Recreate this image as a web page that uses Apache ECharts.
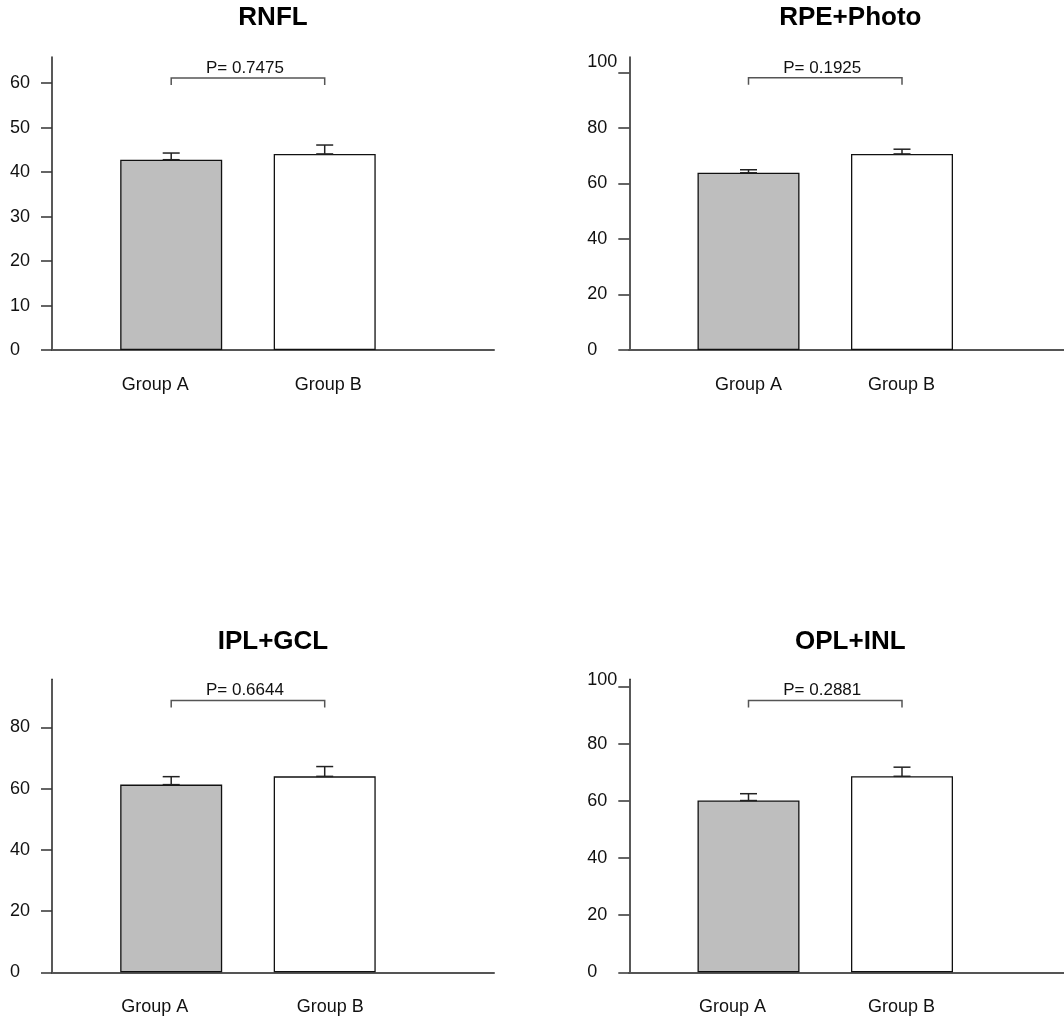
<!DOCTYPE html>
<html>
<head>
<meta charset="utf-8">
<script src="https://cdn.jsdelivr.net/npm/echarts@6.0.0/dist/echarts.min.js"></script>
<style>
html, body { margin: 0; padding: 0; background: #fff; }
#chart { width: 1064px; height: 1021px; }
</style>
</head>
<body>
<div id="chart"></div>
<script>
// data
var groups = ['Group A', 'Group B'];
var panelTitles = ['RNFL', 'RPE+Photo', 'IPL+GCL', 'OPL+INL'];
var meanA = [42.8, 63.8, 61.3, 60.2];
var meanB = [44.1, 70.6, 64.0, 68.7];
var semA = [1.5, 1.1, 2.6, 2.4];
var semB = [2.0, 1.7, 3.2, 3.2];
var pValues = ['0.7475', '0.1925', '0.6644', '0.2881'];
var bracketY = [61.2, 98.0, 88.8, 95.3];
var yMax = [65.9, 105.5, 95.7, 102.7];
var yTicks = [
  [0, 10, 20, 30, 40, 50, 60],
  [0, 20, 40, 60, 80, 100],
  [0, 20, 40, 60, 80],
  [0, 20, 40, 60, 80, 100]
];

// layout (px)
var lefts = [52, 629.3, 52, 629.3];
var tops = [57, 57, 679.3, 679.3];
var titleTops = [5, 5, 629, 629];
var gridW = 442, gridH = 293;
var pxPerGroup = 153.5, firstOffset = 119.2;
var xMin = 1 - firstOffset / pxPerGroup;
var xMax = xMin + gridW / pxPerGroup;
// small label nudges seen in the figure
var labelShiftA = [-16, 0, -16.5, -16];
var labelShiftB = [3.5, -0.5, 5.5, -0.5];
var topLabelLift = [0, 10, 0, 6.5];

var fontFam = '"Liberation Sans", Arial, Helvetica, sans-serif';
var fillColors = ['#bebebe', '#ffffff'];

var chart = echarts.init(document.getElementById('chart'));

var grids = [], xAxes = [], yAxes = [], series = [], titles = [];

function padFor(shift) {
  // centred text: extra padding on one side moves it by half
  return shift < 0 ? [0, -shift * 2, 0, 0] : [0, 0, 0, shift * 2];
}

for (var i = 0; i < 4; i++) {
  (function (i) {
    grids.push({
      left: lefts[i], top: tops[i], width: gridW, height: gridH,
      containLabel: false, outerBoundsMode: 'none'
    });

    titles.push({
      text: panelTitles[i],
      left: lefts[i] + gridW / 2,
      top: titleTops[i],
      textAlign: 'center',
      padding: 0,
      textStyle: { fontSize: 26, fontWeight: 'bold', color: '#000', fontFamily: fontFam }
    });

    xAxes.push({
      type: 'value',
      gridIndex: i,
      min: xMin,
      max: xMax,
      axisLine: { show: true, onZero: false, lineStyle: { color: '#555', width: 2 } },
      axisTick: { show: false },
      splitLine: { show: false },
      axisLabel: {
        customValues: [1, 2],
        margin: 26,
        fontSize: 18,
        color: '#111',
        fontFamily: fontFam,
        formatter: function (v) { return v === 1 ? '{a|' + groups[0] + '}' : '{b|' + groups[1] + '}'; },
        rich: {
          a: { fontSize: 18, color: '#111', fontFamily: fontFam, padding: padFor(labelShiftA[i]) },
          b: { fontSize: 18, color: '#111', fontFamily: fontFam, padding: padFor(labelShiftB[i]) }
        }
      }
    });

    yAxes.push({
      type: 'value',
      gridIndex: i,
      min: 0,
      max: yMax[i],
      axisLine: { show: true, onZero: false, lineStyle: { color: '#222', width: 1.5 } },
      axisTick: { show: true, customValues: yTicks[i], length: 11, lineStyle: { color: '#333', width: 1.5 } },
      splitLine: { show: false },
      axisLabel: {
        customValues: yTicks[i],
        align: 'left',
        margin: 42,
        fontSize: 18,
        color: '#111',
        fontFamily: fontFam,
        formatter: function (v) { return v >= 100 ? '{up|' + v + '}' : String(v); },
        rich: {
          up: { fontSize: 18, color: '#111', fontFamily: fontFam, padding: [0, 0, topLabelLift[i] * 2, 0] }
        }
      }
    });

    series.push({
      type: 'bar',
      xAxisIndex: i,
      yAxisIndex: i,
      barWidth: 102,
      z: 3,
      data: [
        { value: [1, meanA[i]], itemStyle: { color: fillColors[0] } },
        { value: [2, meanB[i]], itemStyle: { color: fillColors[1] } }
      ],
      itemStyle: { borderColor: '#111', borderWidth: 1.3 }
    });

    // error bars: mean to mean + SEM with caps
    series.push({
      type: 'custom',
      xAxisIndex: i,
      yAxisIndex: i,
      z: 4,
      data: [[1, meanA[i], semA[i]], [2, meanB[i], semB[i]]],
      encode: { x: 0, y: 1 },
      renderItem: function (params, api) {
        var x = api.value(0), m = api.value(1), s = api.value(2);
        var lo = api.coord([x, m]);
        var hi = api.coord([x, m + s]);
        var cw = 8.5;
        var st = { stroke: '#222', lineWidth: 1.5 };
        return {
          type: 'group',
          children: [
            { type: 'line', shape: { x1: lo[0], y1: lo[1], x2: hi[0], y2: hi[1] }, style: st },
            { type: 'line', shape: { x1: hi[0] - cw, y1: hi[1], x2: hi[0] + cw, y2: hi[1] }, style: st },
            { type: 'line', shape: { x1: lo[0] - cw, y1: lo[1], x2: lo[0] + cw, y2: lo[1] }, style: st }
          ]
        };
      }
    });

    // significance bracket with p value
    series.push({
      type: 'custom',
      xAxisIndex: i,
      yAxisIndex: i,
      z: 4,
      data: [[1, bracketY[i]]],
      encode: { x: 0, y: 1 },
      renderItem: function (params, api) {
        var y = api.value(1);
        var p1 = api.coord([1, y]);
        var p2 = api.coord([2, y]);
        var drop = 7;
        return {
          type: 'group',
          children: [
            {
              type: 'polyline',
              shape: { points: [[p1[0], p1[1] + drop], [p1[0], p1[1]], [p2[0], p2[1]], [p2[0], p2[1] + drop]] },
              style: { stroke: '#555', lineWidth: 1.5, fill: null }
            },
            {
              type: 'text',
              x: (p1[0] + p2[0]) / 2 - 3,
              y: p1[1] - 10,
              style: {
                text: 'P= ' + pValues[i],
                fill: '#111',
                font: '17px ' + fontFam,
                align: 'center',
                verticalAlign: 'middle'
              }
            }
          ]
        };
      }
    });
  })(i);
}

chart.setOption({
  animation: false,
  backgroundColor: '#fff',
  title: titles,
  grid: grids,
  xAxis: xAxes,
  yAxis: yAxes,
  series: series
});
</script>
</body>
</html>
